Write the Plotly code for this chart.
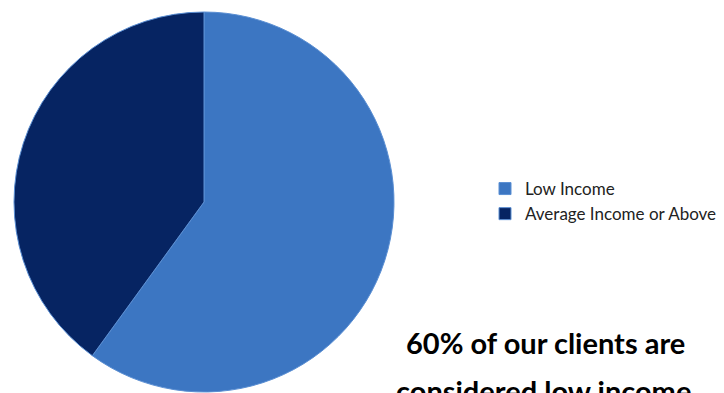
import plotly.graph_objects as go

labels = ["Low Income", "Average Income or Above"]
values = [60, 40]
colors = ["#3c76c2", "#062462"]
caption_lines = ["60% of our clients are", "considered low income."]

W, H = 724, 393
fig = go.Figure()
fig.add_trace(go.Pie(
    labels=labels, values=values, sort=False, direction="clockwise", rotation=0,
    marker=dict(colors=colors, line=dict(color="#5b8fd3", width=1)),
    textinfo="none", hoverinfo="label+percent",
    domain=dict(x=[6 / W, 386 / W], y=[9 / H, 1 - 4 / H]),
))
fig.add_annotation(text="<b>" + caption_lines[0] + "</b>", x=537 / W, y=1 - 334 / H,
                   xref="paper", yref="paper", showarrow=False,
                   font=dict(family="Lato", size=29, color="#000000"), xanchor="center", yanchor="middle")
fig.add_annotation(text="<b>" + caption_lines[1] + "</b>", x=539 / W, y=1 - 382 / H,
                   xref="paper", yref="paper", showarrow=False,
                   font=dict(family="Lato", size=29, color="#000000"), xanchor="center", yanchor="middle")
fig.update_layout(
    width=W, height=H, margin=dict(l=0, r=0, t=0, b=0),
    paper_bgcolor="white", plot_bgcolor="white",
    showlegend=True,
    legend=dict(x=477 / W, y=1 - 163 / H, xanchor="left", yanchor="top",
                font=dict(family="Lato", size=17, color="#222222"),
                itemwidth=30, bgcolor="rgba(0,0,0,0)"),
)
fig.write_html("out.html")
